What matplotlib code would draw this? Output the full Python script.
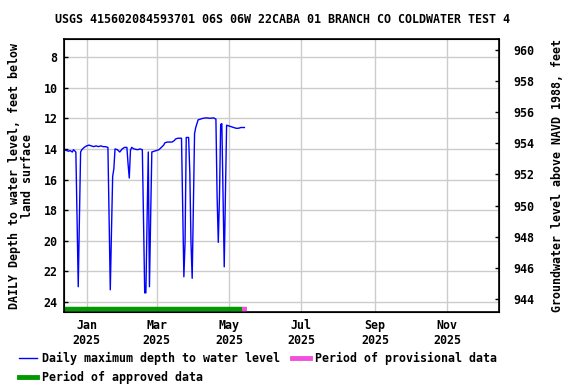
import matplotlib
matplotlib.use("Agg")
import matplotlib.pyplot as plt
from matplotlib.lines import Line2D
import pandas as pd

plt.rcParams["font.family"] = ["DejaVu Sans Mono"]
plt.rcParams["font.weight"] = "bold"
FS = 8.4

TITLE = "USGS 415602084593701 06S 06W 22CABA 01 BRANCH CO COLDWATER TEST 4"

# daily maximum depth to water, feet below land surface
dates = [
    "2024-12-13", "2024-12-15", "2024-12-17", "2024-12-18", "2024-12-20",
    "2024-12-21", "2024-12-23", "2024-12-24", "2024-12-25", "2024-12-26",
    "2024-12-27", "2024-12-28", "2024-12-30", "2025-01-01", "2025-01-03",
    "2025-01-05", "2025-01-07", "2025-01-09", "2025-01-11", "2025-01-13",
    "2025-01-15", "2025-01-17", "2025-01-19", "2025-01-20", "2025-01-21",
    "2025-01-22", "2025-01-23", "2025-01-24", "2025-01-25", "2025-01-27",
    "2025-01-29", "2025-01-31", "2025-02-02", "2025-02-04", "2025-02-05",
    "2025-02-06", "2025-02-07", "2025-02-08", "2025-02-10", "2025-02-13",
    "2025-02-15", "2025-02-17", "2025-02-18", "2025-02-19", "2025-02-20",
    "2025-02-21", "2025-02-22", "2025-02-23", "2025-02-24", "2025-02-25",
    "2025-02-27", "2025-03-01", "2025-03-03", "2025-03-05", "2025-03-07",
    "2025-03-08", "2025-03-10", "2025-03-14", "2025-03-16", "2025-03-17",
    "2025-03-19", "2025-03-22", "2025-03-23", "2025-03-24", "2025-03-25",
    "2025-03-26", "2025-03-28", "2025-03-29", "2025-03-30", "2025-03-31",
    "2025-04-01", "2025-04-02", "2025-04-03", "2025-04-05", "2025-04-07",
    "2025-04-09", "2025-04-12", "2025-04-15", "2025-04-18", "2025-04-20",
    "2025-04-21", "2025-04-22", "2025-04-23", "2025-04-24", "2025-04-25",
    "2025-04-26", "2025-04-27", "2025-04-28", "2025-04-29", "2025-05-01",
    "2025-05-03", "2025-05-05", "2025-05-07", "2025-05-09", "2025-05-11",
    "2025-05-14",
]
depth = [
    14.05, 14.1, 14.15, 14.1, 14.2,
    14.05, 14.2, 18.5, 23.0, 18.5,
    14.2, 14.05, 13.9, 13.8, 13.75,
    13.8, 13.85, 13.8, 13.85, 13.8,
    13.85, 13.85, 13.9, 18.5, 23.2,
    19.4, 15.8, 15.3, 14.0, 14.05,
    14.2, 14.0, 13.9, 13.9, 15.0,
    15.9, 14.1, 13.9, 14.0, 14.05,
    14.0, 14.05, 18.6, 23.4, 23.4,
    18.6, 14.2, 23.0, 18.5, 14.2,
    14.15, 14.1, 14.05, 13.9, 13.75,
    13.6, 13.55, 13.55, 13.45, 13.35,
    13.3, 13.3, 17.8, 22.35, 20.1,
    13.25, 13.25, 15.5, 20.1, 22.45,
    17.8, 13.0, 12.6, 12.1, 12.05,
    12.0, 11.97, 12.0, 11.97, 12.05,
    17.1, 20.1, 17.1, 12.4, 12.35,
    17.0, 21.7, 17.0, 12.45, 12.5,
    12.55, 12.6, 12.65, 12.65, 12.6,
    12.6,
]

approved_period = ["2024-12-13", "2025-05-12"]
provisional_period = ["2025-05-12", "2025-05-16"]

x_range = ["2024-12-13", "2025-12-14"]
month_ticks = ["2025-01-01", "2025-03-01", "2025-05-01", "2025-07-01", "2025-09-01", "2025-11-01"]
month_labels = ["Jan\n2025", "Mar\n2025", "May\n2025", "Jul\n2025", "Sep\n2025", "Nov\n2025"]
depth_ticks = [8, 10, 12, 14, 16, 18, 20, 22, 24]
elev_ticks = [944, 946, 948, 950, 952, 954, 956, 958, 960]

fig = plt.figure(figsize=(5.76, 3.84), dpi=100)
ax = fig.add_axes([0.1111, 0.1875, 0.7552, 0.7109])

ax.plot(pd.to_datetime(dates), depth, color="#0000ff", lw=1.0, zorder=3)

bar_y = 24.45
ax.plot(pd.to_datetime(approved_period), [bar_y, bar_y], color="#009900", lw=3.2,
        solid_capstyle="butt", zorder=4)
ax.plot(pd.to_datetime(provisional_period), [bar_y, bar_y], color="#f050dc", lw=3.2,
        solid_capstyle="butt", zorder=4)

xr = pd.to_datetime(x_range)
ax.set_xlim(xr[0], xr[1] + pd.Timedelta(hours=12))
ax.set_ylim(24.65, 6.82)
ax.set_xticks(pd.to_datetime(month_ticks))
ax.set_xticklabels(month_labels)
ax.set_yticks(depth_ticks)
ax.grid(True, color="#cccccc", lw=1.0)
ax.set_axisbelow(True)
ax.tick_params(direction="in", length=3, labelsize=FS, width=1)
ax.tick_params(axis="y", pad=4.5)
ax.tick_params(axis="x", length=0, pad=5)
for s in ax.spines.values():
    s.set_linewidth(1.2)

ax.set_ylabel("DAILY Depth to water level, feet below\nland surface", fontsize=FS,
              fontweight="bold", linespacing=1.0)
ax.yaxis.set_label_coords(-0.07, 0.5)

ax2 = ax.twinx()
ax2.set_ylim(943.16, 960.71)
ax2.set_yticks(elev_ticks)
ax2.tick_params(direction="in", length=3, labelsize=FS, width=1, pad=10)
ax2.set_ylabel("Groundwater level above NAVD 1988, feet", fontsize=FS,
               fontweight="bold")
ax2.yaxis.set_label_coords(1.12, 0.5)

fig.text(0.49, 0.95, TITLE, ha="center", va="center", fontsize=FS, fontweight="bold")

handles = [
    Line2D([], [], color="#0000ff", lw=1.0),
    Line2D([], [], color="#009900", lw=3.5),
    Line2D([], [], color="#f050dc", lw=3.5),
]
labels = ["Daily maximum depth to water level", "Period of approved data",
          "Period of provisional data"]
fig.legend(handles, labels, ncol=2, loc="upper left", bbox_to_anchor=(0.033, 0.084),
           frameon=False, fontsize=FS, handlelength=1.55, handletextpad=0.45,
           columnspacing=1.0, labelspacing=0.5, borderaxespad=0.0, borderpad=0.0)

fig.savefig("out.png", dpi=100)
